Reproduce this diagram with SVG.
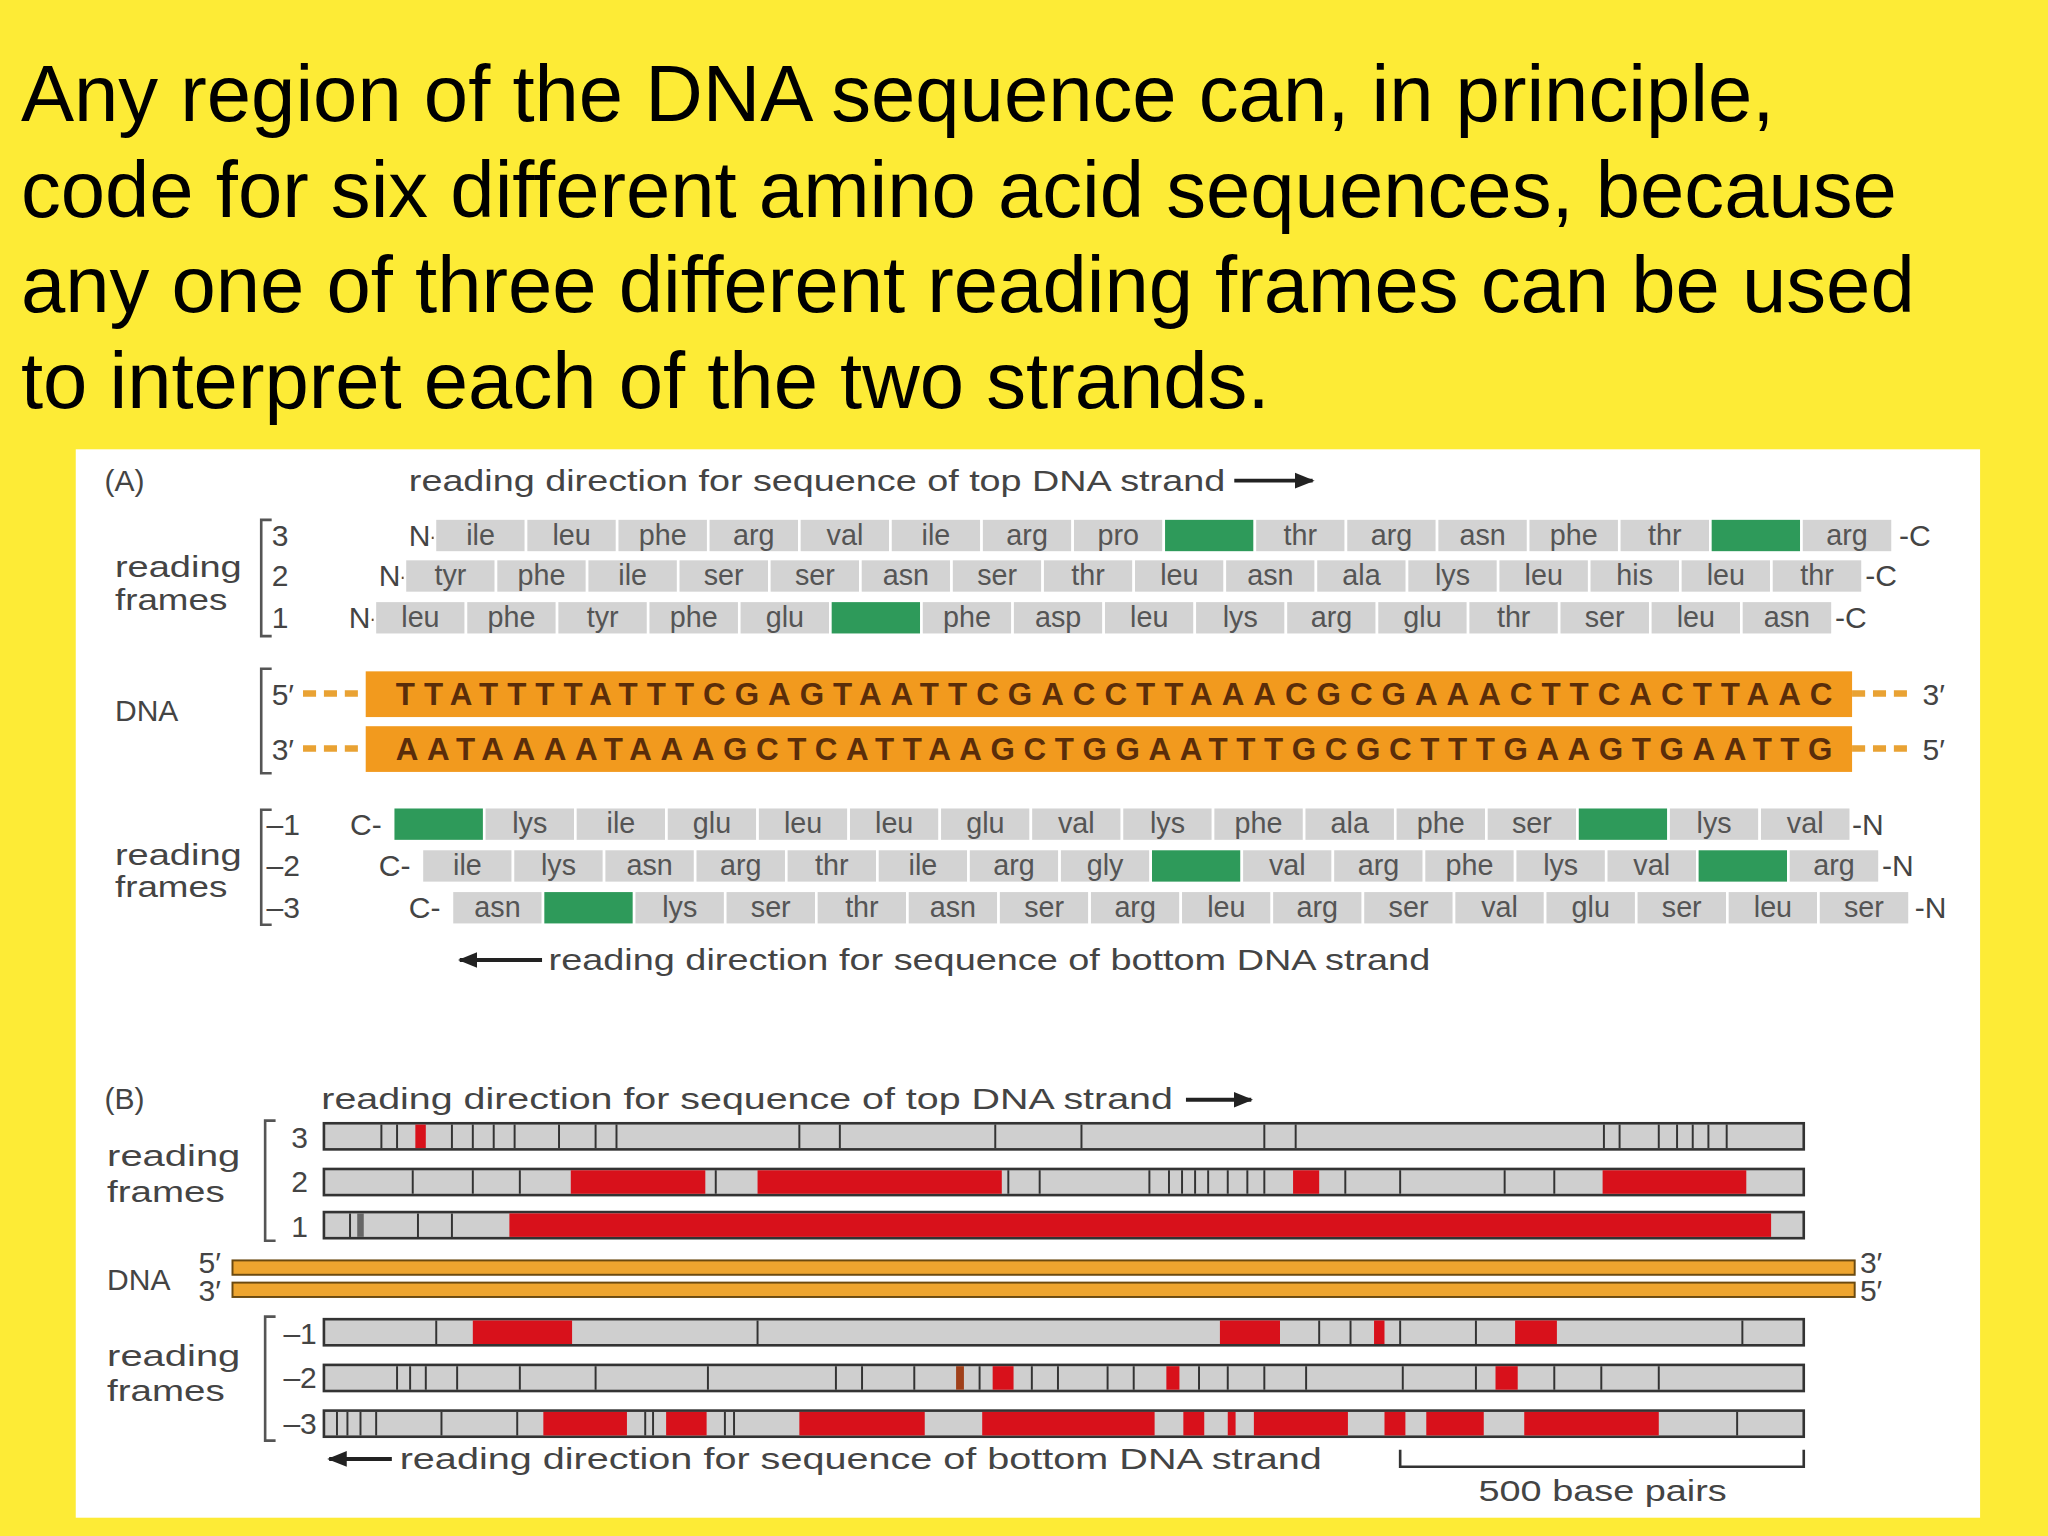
<svg xmlns="http://www.w3.org/2000/svg" width="2048" height="1536" viewBox="0 0 2048 1536">
<style>
.t{font-family:"Liberation Sans",Arial,sans-serif;font-size:61px;fill:#000}
.l{font-family:"Liberation Sans",Arial,sans-serif;font-size:23px;fill:#444}
.aa{font-family:"Liberation Sans",Arial,sans-serif;font-size:22px;fill:#555;text-anchor:middle}
.b{fill:#d3d3d3;stroke:#fff;stroke-width:2}
.g{fill:#2e9a5a;stroke:#fff;stroke-width:2}
.dna{font-family:"Liberation Sans",Arial,sans-serif;font-size:24px;font-weight:bold;fill:#5a2d0a}
.br{fill:none;stroke:#555;stroke-width:2}
.bar{fill:#cfcfcf;stroke:#333;stroke-width:2}
.tk{stroke:#333;stroke-width:1.5}
.r{fill:#d8111b}
.ds{stroke:#e9a233;stroke-width:5;stroke-dasharray:10 6}
</style>
<defs>
<marker id="ah" viewBox="0 0 10 10" refX="9" refY="5" markerWidth="5" markerHeight="5" orient="auto"><path d="M0,1 L10,5 L0,9 z" fill="#222"/></marker>
</defs>
<rect width="2048" height="1536" fill="#fdeb36"/>
<g transform="scale(1.30612)">
<g id="title">
<text class="t" x="16" y="93">Any region of the DNA sequence can, in principle,</text>
<text class="t" x="16" y="166">code for six different amino acid sequences, because</text>
<text class="t" x="16" y="239">any one of three different reading frames can be used</text>
<text class="t" x="16" y="312">to interpret each of the two strands.</text>
</g>
<rect x="58" y="344" width="1458" height="818" fill="#fff"/>
<g id="panelA">
<text class="l" x="80" y="376">(A)</text>
<text class="l" x="313" y="376" textLength="625" lengthAdjust="spacingAndGlyphs">reading direction for sequence of top DNA strand</text>
<line x1="945" y1="368" x2="1005" y2="368" stroke="#222" stroke-width="3" marker-end="url(#ah)"/>
<text class="l" x="88" y="442" textLength="97" lengthAdjust="spacingAndGlyphs">reading</text><text class="l" x="88" y="467" textLength="86" lengthAdjust="spacingAndGlyphs">frames</text>
<text class="l" x="88" y="552">DNA</text>
<text class="l" x="88" y="662" textLength="97" lengthAdjust="spacingAndGlyphs">reading</text><text class="l" x="88" y="687" textLength="86" lengthAdjust="spacingAndGlyphs">frames</text>
<path class="br" d="M208,398 H200 V487 H208"/>
<path class="br" d="M208,512 H200 V592 H208"/>
<path class="br" d="M208,620 H200 V708 H208"/>
<text class="l" x="208" y="418">3</text><text class="l" x="208" y="449">2</text><text class="l" x="208" y="481">1</text>
<text class="l" x="204" y="639">–1</text><text class="l" x="204" y="671">–2</text><text class="l" x="204" y="703">–3</text>
<g id="f3"><text class="l" x="313" y="418">N-</text><text class="l" x="1454" y="418">-C</text>
<g transform="translate(333,397)">
<rect class="b" x="0" width="69.75" height="26"/><text class="aa" x="34.9" y="20">ile</text>
<rect class="b" x="69.75" width="69.75" height="26"/><text class="aa" x="104.6" y="20">leu</text>
<rect class="b" x="139.5" width="69.75" height="26"/><text class="aa" x="174.4" y="20">phe</text>
<rect class="b" x="209.25" width="69.75" height="26"/><text class="aa" x="244.1" y="20">arg</text>
<rect class="b" x="279" width="69.75" height="26"/><text class="aa" x="313.9" y="20">val</text>
<rect class="b" x="348.75" width="69.75" height="26"/><text class="aa" x="383.6" y="20">ile</text>
<rect class="b" x="418.5" width="69.75" height="26"/><text class="aa" x="453.4" y="20">arg</text>
<rect class="b" x="488.25" width="69.75" height="26"/><text class="aa" x="523.1" y="20">pro</text>
<rect class="g" x="558" width="69.75" height="26"/>
<rect class="b" x="627.75" width="69.75" height="26"/><text class="aa" x="662.6" y="20">thr</text>
<rect class="b" x="697.5" width="69.75" height="26"/><text class="aa" x="732.4" y="20">arg</text>
<rect class="b" x="767.25" width="69.75" height="26"/><text class="aa" x="802.1" y="20">asn</text>
<rect class="b" x="837" width="69.75" height="26"/><text class="aa" x="871.9" y="20">phe</text>
<rect class="b" x="906.75" width="69.75" height="26"/><text class="aa" x="941.6" y="20">thr</text>
<rect class="g" x="976.5" width="69.75" height="26"/>
<rect class="b" x="1046.25" width="69.75" height="26"/><text class="aa" x="1081.1" y="20">arg</text>
</g></g>
<g id="f2"><text class="l" x="290" y="449">N-</text><text class="l" x="1428" y="449">-C</text>
<g transform="translate(310,428)">
<rect class="b" x="0" width="69.75" height="26"/><text class="aa" x="34.9" y="20">tyr</text>
<rect class="b" x="69.75" width="69.75" height="26"/><text class="aa" x="104.6" y="20">phe</text>
<rect class="b" x="139.5" width="69.75" height="26"/><text class="aa" x="174.4" y="20">ile</text>
<rect class="b" x="209.25" width="69.75" height="26"/><text class="aa" x="244.1" y="20">ser</text>
<rect class="b" x="279" width="69.75" height="26"/><text class="aa" x="313.9" y="20">ser</text>
<rect class="b" x="348.75" width="69.75" height="26"/><text class="aa" x="383.6" y="20">asn</text>
<rect class="b" x="418.5" width="69.75" height="26"/><text class="aa" x="453.4" y="20">ser</text>
<rect class="b" x="488.25" width="69.75" height="26"/><text class="aa" x="523.1" y="20">thr</text>
<rect class="b" x="558" width="69.75" height="26"/><text class="aa" x="592.9" y="20">leu</text>
<rect class="b" x="627.75" width="69.75" height="26"/><text class="aa" x="662.6" y="20">asn</text>
<rect class="b" x="697.5" width="69.75" height="26"/><text class="aa" x="732.4" y="20">ala</text>
<rect class="b" x="767.25" width="69.75" height="26"/><text class="aa" x="802.1" y="20">lys</text>
<rect class="b" x="837" width="69.75" height="26"/><text class="aa" x="871.9" y="20">leu</text>
<rect class="b" x="906.75" width="69.75" height="26"/><text class="aa" x="941.6" y="20">his</text>
<rect class="b" x="976.5" width="69.75" height="26"/><text class="aa" x="1011.4" y="20">leu</text>
<rect class="b" x="1046.25" width="69.75" height="26"/><text class="aa" x="1081.1" y="20">thr</text>
</g></g>
<g id="f1"><text class="l" x="267" y="481">N-</text><text class="l" x="1405" y="481">-C</text>
<g transform="translate(287,460)">
<rect class="b" x="0" width="69.75" height="26"/><text class="aa" x="34.9" y="20">leu</text>
<rect class="b" x="69.75" width="69.75" height="26"/><text class="aa" x="104.6" y="20">phe</text>
<rect class="b" x="139.5" width="69.75" height="26"/><text class="aa" x="174.4" y="20">tyr</text>
<rect class="b" x="209.25" width="69.75" height="26"/><text class="aa" x="244.1" y="20">phe</text>
<rect class="b" x="279" width="69.75" height="26"/><text class="aa" x="313.9" y="20">glu</text>
<rect class="g" x="348.75" width="69.75" height="26"/>
<rect class="b" x="418.5" width="69.75" height="26"/><text class="aa" x="453.4" y="20">phe</text>
<rect class="b" x="488.25" width="69.75" height="26"/><text class="aa" x="523.1" y="20">asp</text>
<rect class="b" x="558" width="69.75" height="26"/><text class="aa" x="592.9" y="20">leu</text>
<rect class="b" x="627.75" width="69.75" height="26"/><text class="aa" x="662.6" y="20">lys</text>
<rect class="b" x="697.5" width="69.75" height="26"/><text class="aa" x="732.4" y="20">arg</text>
<rect class="b" x="767.25" width="69.75" height="26"/><text class="aa" x="802.1" y="20">glu</text>
<rect class="b" x="837" width="69.75" height="26"/><text class="aa" x="871.9" y="20">thr</text>
<rect class="b" x="906.75" width="69.75" height="26"/><text class="aa" x="941.6" y="20">ser</text>
<rect class="b" x="976.5" width="69.75" height="26"/><text class="aa" x="1011.4" y="20">leu</text>
<rect class="b" x="1046.25" width="69.75" height="26"/><text class="aa" x="1081.1" y="20">asn</text>
</g></g>
<g id="dnaA">
<line class="ds" x1="232" y1="531" x2="280" y2="531"/><line class="ds" x1="232" y1="573" x2="280" y2="573"/>
<line class="ds" x1="1418" y1="531" x2="1466" y2="531"/><line class="ds" x1="1418" y1="573" x2="1466" y2="573"/>
<rect x="280" y="514" width="1138" height="35" fill="#f29a1e"/>
<rect x="280" y="556" width="1138" height="35" fill="#f29a1e"/>
<text class="dna" x="303" y="540" textLength="1100" lengthAdjust="spacing">TTATTTTATTTCGAGTAATTCGACCTTAAACGCGAAACTTCACTTAAC</text>
<text class="dna" x="303" y="582" textLength="1100" lengthAdjust="spacing">AATAAAATAAAGCTCATTAAGCTGGAATTTGCGCTTTGAAGTGAATTG</text>
<text class="l" x="208" y="540">5′</text><text class="l" x="208" y="582">3′</text>
<text class="l" x="1472" y="540">3′</text><text class="l" x="1472" y="582">5′</text>
</g>
<g id="fm1"><text class="l" x="268" y="639">C-</text><text class="l" x="1418" y="639">-N</text>
<g transform="translate(301,618)">
<rect class="g" x="0" width="69.75" height="26"/>
<rect class="b" x="69.75" width="69.75" height="26"/><text class="aa" x="104.6" y="20">lys</text>
<rect class="b" x="139.5" width="69.75" height="26"/><text class="aa" x="174.4" y="20">ile</text>
<rect class="b" x="209.25" width="69.75" height="26"/><text class="aa" x="244.1" y="20">glu</text>
<rect class="b" x="279" width="69.75" height="26"/><text class="aa" x="313.9" y="20">leu</text>
<rect class="b" x="348.75" width="69.75" height="26"/><text class="aa" x="383.6" y="20">leu</text>
<rect class="b" x="418.5" width="69.75" height="26"/><text class="aa" x="453.4" y="20">glu</text>
<rect class="b" x="488.25" width="69.75" height="26"/><text class="aa" x="523.1" y="20">val</text>
<rect class="b" x="558" width="69.75" height="26"/><text class="aa" x="592.9" y="20">lys</text>
<rect class="b" x="627.75" width="69.75" height="26"/><text class="aa" x="662.6" y="20">phe</text>
<rect class="b" x="697.5" width="69.75" height="26"/><text class="aa" x="732.4" y="20">ala</text>
<rect class="b" x="767.25" width="69.75" height="26"/><text class="aa" x="802.1" y="20">phe</text>
<rect class="b" x="837" width="69.75" height="26"/><text class="aa" x="871.9" y="20">ser</text>
<rect class="g" x="906.75" width="69.75" height="26"/>
<rect class="b" x="976.5" width="69.75" height="26"/><text class="aa" x="1011.4" y="20">lys</text>
<rect class="b" x="1046.25" width="69.75" height="26"/><text class="aa" x="1081.1" y="20">val</text>
</g></g>
<g id="fm2"><text class="l" x="290" y="671">C-</text><text class="l" x="1441" y="671">-N</text>
<g transform="translate(323,650)">
<rect class="b" x="0" width="69.75" height="26"/><text class="aa" x="34.9" y="20">ile</text>
<rect class="b" x="69.75" width="69.75" height="26"/><text class="aa" x="104.6" y="20">lys</text>
<rect class="b" x="139.5" width="69.75" height="26"/><text class="aa" x="174.4" y="20">asn</text>
<rect class="b" x="209.25" width="69.75" height="26"/><text class="aa" x="244.1" y="20">arg</text>
<rect class="b" x="279" width="69.75" height="26"/><text class="aa" x="313.9" y="20">thr</text>
<rect class="b" x="348.75" width="69.75" height="26"/><text class="aa" x="383.6" y="20">ile</text>
<rect class="b" x="418.5" width="69.75" height="26"/><text class="aa" x="453.4" y="20">arg</text>
<rect class="b" x="488.25" width="69.75" height="26"/><text class="aa" x="523.1" y="20">gly</text>
<rect class="g" x="558" width="69.75" height="26"/>
<rect class="b" x="627.75" width="69.75" height="26"/><text class="aa" x="662.6" y="20">val</text>
<rect class="b" x="697.5" width="69.75" height="26"/><text class="aa" x="732.4" y="20">arg</text>
<rect class="b" x="767.25" width="69.75" height="26"/><text class="aa" x="802.1" y="20">phe</text>
<rect class="b" x="837" width="69.75" height="26"/><text class="aa" x="871.9" y="20">lys</text>
<rect class="b" x="906.75" width="69.75" height="26"/><text class="aa" x="941.6" y="20">val</text>
<rect class="g" x="976.5" width="69.75" height="26"/>
<rect class="b" x="1046.25" width="69.75" height="26"/><text class="aa" x="1081.1" y="20">arg</text>
</g></g>
<g id="fm3"><text class="l" x="313" y="703">C-</text><text class="l" x="1466" y="703">-N</text>
<g transform="translate(346,682)">
<rect class="b" x="0" width="69.75" height="26"/><text class="aa" x="34.9" y="20">asn</text>
<rect class="g" x="69.75" width="69.75" height="26"/>
<rect class="b" x="139.5" width="69.75" height="26"/><text class="aa" x="174.4" y="20">lys</text>
<rect class="b" x="209.25" width="69.75" height="26"/><text class="aa" x="244.1" y="20">ser</text>
<rect class="b" x="279" width="69.75" height="26"/><text class="aa" x="313.9" y="20">thr</text>
<rect class="b" x="348.75" width="69.75" height="26"/><text class="aa" x="383.6" y="20">asn</text>
<rect class="b" x="418.5" width="69.75" height="26"/><text class="aa" x="453.4" y="20">ser</text>
<rect class="b" x="488.25" width="69.75" height="26"/><text class="aa" x="523.1" y="20">arg</text>
<rect class="b" x="558" width="69.75" height="26"/><text class="aa" x="592.9" y="20">leu</text>
<rect class="b" x="627.75" width="69.75" height="26"/><text class="aa" x="662.6" y="20">arg</text>
<rect class="b" x="697.5" width="69.75" height="26"/><text class="aa" x="732.4" y="20">ser</text>
<rect class="b" x="767.25" width="69.75" height="26"/><text class="aa" x="802.1" y="20">val</text>
<rect class="b" x="837" width="69.75" height="26"/><text class="aa" x="871.9" y="20">glu</text>
<rect class="b" x="906.75" width="69.75" height="26"/><text class="aa" x="941.6" y="20">ser</text>
<rect class="b" x="976.5" width="69.75" height="26"/><text class="aa" x="1011.4" y="20">leu</text>
<rect class="b" x="1046.25" width="69.75" height="26"/><text class="aa" x="1081.1" y="20">ser</text>
</g></g>
<line x1="415" y1="735" x2="352" y2="735" stroke="#222" stroke-width="3" marker-end="url(#ah)"/>
<text class="l" x="420" y="743" textLength="675" lengthAdjust="spacingAndGlyphs">reading direction for sequence of bottom DNA strand</text>
</g>
<g id="panelB">
<text class="l" x="80" y="849">(B)</text>
<text class="l" x="246" y="849" textLength="652" lengthAdjust="spacingAndGlyphs">reading direction for sequence of top DNA strand</text>
<line x1="908" y1="842" x2="958" y2="842" stroke="#222" stroke-width="3" marker-end="url(#ah)"/>
<text class="l" x="82" y="893" textLength="102" lengthAdjust="spacingAndGlyphs">reading</text><text class="l" x="82" y="920" textLength="90" lengthAdjust="spacingAndGlyphs">frames</text>
<text class="l" x="82" y="988">DNA</text>
<text class="l" x="82" y="1046" textLength="102" lengthAdjust="spacingAndGlyphs">reading</text><text class="l" x="82" y="1073" textLength="90" lengthAdjust="spacingAndGlyphs">frames</text>
<path class="br" d="M211,858 H203 V950 H211"/>
<path class="br" d="M211,1008 H203 V1103 H211"/>
<text class="l" x="223" y="879">3</text><text class="l" x="223" y="913">2</text><text class="l" x="223" y="947">1</text>
<text class="l" x="217" y="1029">–1</text><text class="l" x="217" y="1063">–2</text><text class="l" x="217" y="1098">–3</text>
<g id="b3"><rect class="bar" x="248" y="860" width="1133" height="20"/>
<rect class="r" x="318" y="861" width="8" height="18"/>
<path class="tk" d="M292,861v18M304,861v18M346,861v18M362,861v18M378,861v18M394,861v18M428,861v18M456,861v18M472,861v18M612,861v18M643,861v18M762,861v18M828,861v18M968,861v18M992,861v18M1228,861v18M1240,861v18M1270,861v18M1284,861v18M1296,861v18M1308,861v18M1322,861v18"/></g>
<g id="b2"><rect class="bar" x="248" y="895" width="1133" height="20"/>
<rect class="r" x="437" y="896" width="103" height="18"/><rect class="r" x="580" y="896" width="187" height="18"/><rect class="r" x="990" y="896" width="20" height="18"/><rect class="r" x="1227" y="896" width="110" height="18"/>
<path class="tk" d="M316,896v18M362,896v18M398,896v18M548,896v18M772,896v18M796,896v18M880,896v18M895,896v18M905,896v18M915,896v18M925,896v18M940,896v18M955,896v18M968,896v18M1030,896v18M1072,896v18M1152,896v18M1190,896v18"/></g>
<g id="b1"><rect class="bar" x="248" y="928" width="1133" height="20"/>
<rect class="r" x="390" y="929" width="966" height="18"/>
<path class="tk" d="M268,929v18M320,929v18M346,929v18"/><path d="M276,929v18" stroke="#666" stroke-width="5"/></g>
<g id="dnaB">
<rect x="178" y="965" width="1242" height="11" fill="#eea52f" stroke="#6b4a10" stroke-width="1.5"/>
<rect x="178" y="982" width="1242" height="11" fill="#eea52f" stroke="#6b4a10" stroke-width="1.5"/>
<text class="l" x="152" y="975" font-size="16">5′</text><text class="l" x="152" y="996" font-size="16">3′</text>
<text class="l" x="1424" y="975" font-size="16">3′</text><text class="l" x="1424" y="996" font-size="16">5′</text>
</g>
<g id="bm1"><rect class="bar" x="248" y="1010" width="1133" height="20"/>
<rect class="r" x="362" y="1011" width="76" height="18"/><rect class="r" x="934" y="1011" width="46" height="18"/><rect class="r" x="1052" y="1011" width="8" height="18"/><rect class="r" x="1160" y="1011" width="32" height="18"/>
<path class="tk" d="M334,1011v18M580,1011v18M1010,1011v18M1034,1011v18M1072,1011v18M1130,1011v18M1334,1011v18"/></g>
<g id="bm2"><rect class="bar" x="248" y="1045" width="1133" height="20"/>
<rect x="732" y="1046" width="6" height="18" fill="#a0401a"/><rect class="r" x="760" y="1046" width="16" height="18"/><rect class="r" x="893" y="1046" width="10" height="18"/><rect class="r" x="1145" y="1046" width="17" height="18"/>
<path class="tk" d="M304,1046v18M314,1046v18M326,1046v18M350,1046v18M398,1046v18M456,1046v18M542,1046v18M640,1046v18M660,1046v18M700,1046v18M750,1046v18M790,1046v18M810,1046v18M848,1046v18M868,1046v18M918,1046v18M940,1046v18M968,1046v18M1000,1046v18M1074,1046v18M1130,1046v18M1190,1046v18M1226,1046v18M1270,1046v18"/></g>
<g id="bm3"><rect class="bar" x="248" y="1080" width="1133" height="20"/>
<rect class="r" x="416" y="1081" width="64" height="18"/><rect class="r" x="510" y="1081" width="31" height="18"/><rect class="r" x="612" y="1081" width="96" height="18"/><rect class="r" x="752" y="1081" width="132" height="18"/><rect class="r" x="906" y="1081" width="16" height="18"/><rect class="r" x="940" y="1081" width="6" height="18"/><rect class="r" x="960" y="1081" width="72" height="18"/><rect class="r" x="1060" y="1081" width="16" height="18"/><rect class="r" x="1092" y="1081" width="44" height="18"/><rect class="r" x="1167" y="1081" width="103" height="18"/>
<path class="tk" d="M258,1081v18M266,1081v18M276,1081v18M288,1081v18M338,1081v18M396,1081v18M494,1081v18M500,1081v18M555,1081v18M562,1081v18M1330,1081v18"/></g>
<line x1="300" y1="1117" x2="252" y2="1117" stroke="#222" stroke-width="3" marker-end="url(#ah)"/>
<text class="l" x="306" y="1125" textLength="706" lengthAdjust="spacingAndGlyphs">reading direction for sequence of bottom DNA strand</text>
<path d="M1072,1110 V1123 H1381 V1110" fill="none" stroke="#333" stroke-width="2"/>
<text class="l" x="1132" y="1149" textLength="190" lengthAdjust="spacingAndGlyphs">500 base pairs</text>
</g>
</g>
</svg>
